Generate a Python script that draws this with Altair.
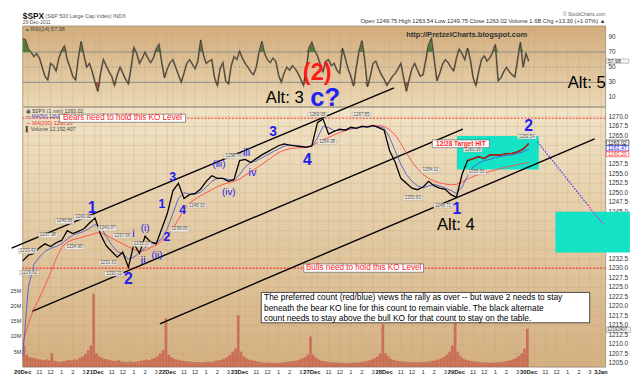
import altair as alt
import pandas as pd

# ------------------------------------------------------------------ data
days = ["20Dec", "21Dec", "22Dec", "23Dec", "27Dec", "28Dec", "29Dec", "30Dec", "3Jan"]
hour_labels = ["", "10", "", "11", "", "12", "", "1", "", "2", "", "3", ""]
grid_offsets = [0, 1, 3, 5, 7, 9, 11]
label_offsets = [0, 3, 5, 7, 9, 11]

# $SPX 1-minute chart read every half hour (t = half hours since 20Dec 9:30)
price = [
    1232.0, 1233.5, 1234.0, 1235.5, 1236.5, 1235.8, 1236.8, 1237.4, 1240.0, 1239.2,
    1239.8, 1240.5, 1242.0, 1243.3, 1239.0, 1236.0, 1234.5, 1233.0, 1234.3, 1230.3,
    1236.5, 1234.0, 1238.5, 1237.0, 1236.5, 1240.5, 1244.5, 1250.5, 1252.5, 1248.5,
    1249.5, 1249.8, 1251.0, 1253.0, 1254.5, 1253.8, 1253.8, 1253.0, 1253.5, 1258.5,
    1258.8, 1258.0, 1259.0, 1260.0, 1260.8, 1261.6, 1262.4, 1262.9, 1262.6, 1262.4,
    1262.2, 1262.0, 1262.4, 1268.5, 1269.5, 1265.5, 1266.2, 1266.8, 1266.5, 1267.3,
    1267.0, 1267.6, 1267.3, 1267.8, 1267.2, 1266.5, 1261.0, 1258.0, 1253.8, 1252.5,
    1251.2, 1250.8, 1251.5, 1253.0, 1251.8, 1251.2, 1250.9, 1249.5, 1248.8, 1254.8,
    1258.5, 1259.0, 1259.5, 1259.0, 1260.0, 1260.0, 1260.0, 1260.3, 1260.4, 1260.8,
    1261.5, 1263.0,
]
ma50 = [
    1207.0, 1225.0, 1231.0, 1233.0, 1234.5, 1235.3, 1235.8, 1236.5, 1237.8, 1238.8,
    1239.3, 1239.8, 1240.6, 1241.6, 1241.0, 1238.5, 1236.2, 1234.5, 1233.8, 1232.5,
    1233.0, 1234.2, 1235.5, 1236.8, 1236.8, 1237.8, 1240.5, 1244.5, 1248.5, 1250.0,
    1249.6, 1249.6, 1250.2, 1251.5, 1253.0, 1253.8, 1253.8, 1253.5, 1253.3, 1254.8,
    1256.8, 1258.0, 1258.4, 1259.2, 1260.0, 1260.8, 1261.6, 1262.3, 1262.6, 1262.5,
    1262.3, 1262.1, 1262.2, 1264.5, 1267.5, 1267.2, 1266.4, 1266.5, 1266.7, 1266.9,
    1267.1, 1267.3, 1267.4, 1267.5, 1267.5, 1267.0, 1264.5, 1261.0, 1257.5, 1254.8,
    1253.0, 1251.8, 1251.3, 1251.8, 1252.2, 1251.8, 1251.2, 1250.6, 1249.8, 1251.5,
    1254.5, 1256.8, 1257.8, 1258.5, 1258.8, 1259.3, 1259.6, 1259.8, 1260.0, 1260.3,
    1260.8, 1261.5,
]
ma200 = [
    1210.0, 1215.5, 1219.3, 1222.2, 1225.4, 1228.9, 1232.6, 1235.6, 1237.0, 1237.6,
    1238.0, 1238.4, 1238.8, 1239.3, 1239.5, 1238.8, 1238.0, 1237.2, 1236.5, 1235.7,
    1235.0, 1234.4, 1234.8, 1235.5, 1236.2, 1237.2, 1238.7, 1240.5, 1243.0, 1245.5,
    1247.3, 1248.3, 1249.2, 1250.0, 1250.8, 1251.6, 1252.2, 1252.6, 1253.0, 1253.6,
    1254.6, 1255.5, 1256.5, 1257.5, 1258.5, 1259.6, 1260.6, 1261.2, 1261.6, 1261.8,
    1261.9, 1262.1, 1262.4, 1263.2, 1264.0, 1264.6, 1265.3, 1265.9, 1266.4, 1266.8,
    1267.1, 1267.4, 1267.6, 1267.7, 1267.7, 1267.5, 1266.6, 1265.2, 1263.0, 1260.5,
    1258.2, 1256.3, 1254.8, 1253.8, 1253.1, 1252.6, 1252.3, 1252.1, 1252.2, 1252.8,
    1253.6, 1254.3, 1254.8, 1255.2, 1255.6, 1256.0, 1256.4, 1256.8, 1257.1, 1257.4,
    1257.7, 1258.0,
]
# RSI(14) read every quarter hour
rsi = [
    88, 86, 74, 70, 64, 68, 62, 50, 38, 33,
    55, 52, 45, 62, 72, 78, 60, 50, 38, 33,
    62, 84, 66, 50, 55, 44, 30, 18, 42, 60,
    52, 44, 38, 26, 40, 50, 42, 34, 28, 50,
    76, 68, 55, 62, 70, 62, 56, 62, 74, 80,
    56, 36, 48, 56, 60, 50, 40, 30, 42, 55,
    60, 54, 48, 58, 86, 66, 55, 58, 60, 36,
    26, 48, 56, 32, 28, 52, 64, 60, 71, 62,
    55, 50, 44, 40, 50, 70, 84, 68, 60, 56,
    62, 58, 40, 30, 42, 50, 46, 52, 48, 42,
    34, 26, 48, 76, 83, 72, 65, 54, 44, 58,
    60, 52, 55, 46, 42, 75, 62, 48, 38, 25,
    50, 72, 85, 60, 24, 38, 55, 58, 48, 40,
    34, 26, 32, 38, 42, 48, 55, 36, 18, 34,
    48, 55, 46, 38, 40, 60, 80, 88, 60, 32,
    42, 54, 60, 56, 50, 45, 62, 74, 68, 60,
    75, 60, 36, 26, 44, 60, 65, 58, 62, 70,
    80, 32, 36, 44, 50, 44, 40, 37, 60, 83,
    50, 68, 58,
]
# peak one-minute volume (millions) in each quarter hour, one list per day
volume_m = [
    [7, 4, 3.2, 3, 2.8, 2.5, 2.4, 2.2, 2.5, 2.1, 4.5, 2, 1.8, 1.7, 1.9, 2, 2.3, 2.1, 2.5, 2.4, 3, 3.4, 4.2, 5.5, 7, 24],
    [4.5, 3.5, 3, 2.6, 2.4, 2.2, 2, 2, 2.2, 1.8, 1.7, 1.6, 1.8, 1.6, 1.7, 1.8, 2, 2.2, 2.4, 2.2, 2.6, 3, 3.5, 4.5, 5.5, 16],
    [4, 3.2, 2.6, 2.4, 2.2, 2, 1.9, 1.8, 1.7, 1.6, 1.6, 1.5, 1.5, 1.6, 1.7, 1.6, 1.8, 2, 2.2, 2.4, 2.8, 3.2, 4, 5, 6, 17],
    [5, 3.5, 2.8, 2.4, 2.2, 2, 1.8, 1.6, 1.5, 1.4, 1.4, 1.3, 1.4, 1.3, 1.4, 1.5, 1.6, 1.7, 1.8, 1.9, 2.1, 2.4, 2.8, 3.2, 4, 10],
    [4, 3, 2.4, 2, 1.8, 1.7, 1.6, 1.5, 1.5, 1.4, 1.4, 1.3, 1.3, 1.3, 1.4, 1.4, 1.5, 1.6, 1.7, 1.9, 2.1, 2.4, 2.8, 3.4, 4.5, 14],
    [4.5, 3.4, 2.6, 2.3, 2, 1.9, 1.8, 1.7, 1.6, 1.6, 1.5, 1.5, 1.5, 1.6, 1.6, 1.7, 1.8, 2, 2.2, 2.5, 2.8, 3.3, 4, 5, 7, 14.5],
    [5, 3.5, 2.7, 2.3, 2.1, 1.9, 1.8, 1.7, 1.6, 1.5, 1.5, 1.4, 1.4, 1.5, 1.5, 1.6, 1.7, 1.8, 2, 2.2, 2.5, 3, 3.6, 4.5, 6, 12.5],
]
price_ticks = [1205.0, 1207.5, 1210.0, 1212.5, 1215.0, 1217.5, 1220.0, 1222.5, 1225.0,
               1227.5, 1230.0, 1232.5, 1235.0, 1237.5, 1240.0, 1242.5, 1245.0, 1247.5,
               1250.0, 1252.5, 1255.0, 1257.5, 1260.0, 1262.5, 1265.0, 1267.5, 1270.0]
rsi_ticks = [10, 30, 50, 70, 90]
vol_ticks = [5e6, 10e6, 15e6, 20e6, 25e6]
vol_tick_labels = ["5M", "10M", "15M", "20M", "25M"]
bear_ko = 1269.65
bull_ko = 1230.1

# annotations (data units: t, price)
channel_lines = [("A", -2.0, 1235.4), ("A", 66.77, 1277.7),
                 ("B", 1.68, 1218.7), ("B", 79.15, 1266.8),
                 ("C", 24.67, 1215.4), ("C", 102.85, 1264.2)]
projection_blue = [(92.6, 1263.4), (101.6, 1246.8)]
projection_pink = [(101.6, 1246.8), (104.6, 1241.3)]
cyan_boxes = [(78.1, 92.8, 1256.15, 1265.0), (95.8, 109.2, 1234.2, 1245.0)]
wave_digits = [(12.47, 1246.0, "1", 16), (19.01, 1227.3, "2", 16), (26.97, 1254.1, "3", 12.5),
               (25.03, 1247.1, "1", 12.5), (25.91, 1238.2, "2", 12.5), (28.74, 1245.5, "4", 12.5),
               (45.01, 1266.0, "3", 14), (51.2, 1258.75, "4", 16), (78.09, 1245.8, "1", 16),
               (91.0, 1267.6, "2", 16)]
wave_roman = [(19.9, 1239.0, "i", 11), (21.67, 1232.0, "ii", 11), (22.02, 1240.8, "(i)", 10),
              (24.14, 1233.55, "(ii)", 10), (35.28, 1257.45, "(iii)", 10), (37.05, 1250.2, "(iv)", 10),
              (40.24, 1260.6, "iii", 11), (41.3, 1255.1, "iv", 11)]
big_labels = [(47.13, 1274.9, "Alt: 3", 17, "#000000"), (77.9, 1241.35, "Alt: 4", 17, "#000000"),
              (101.43, 1279.0, "Alt: 5", 17, "#000000"), (54.39, 1275.1, "c?", 26, "#2020f0"),
              (52.97, 1281.5, "(2)", 24, "#ff1a1a")]
price_tags = [(4.51, 1238.75, "1237.38"), (7.52, 1242.4, "1240.56"), (10.9, 1243.5, "1243.32"),
              (15.2, 1240.57, "1241.07"), (9.29, 1235.6, "1234.95"), (21.4, 1236.4, "1235.27"),
              (15.4, 1231.5, "1231.63"), (17.9, 1238.6, "1237.06"), (28.2, 1240.3, "1239.05"),
              (16.4, 1228.6, "1230.31"), (1.15, 1228.9, "1229.62"), (0.9, 1234.6, "1233.43"),
              (31.3, 1246.6, "1248.30"), (37.9, 1259.6, "1258.70"), (53.0, 1270.6, "1269.68"),
              (54.74, 1263.4, "1264.38"), (60.93, 1270.6, "1267.85"), (73.31, 1255.9, "1254.11"),
              (70.13, 1248.6, "1250.63"), (75.6, 1246.6, "1248.71"), (81.62, 1255.4, "1255.53"),
              (80.92, 1261.35, "1260.36"), (90.64, 1264.8, "1263.54")]
ko_boxes = [(6.63, 29.27, 1268.6, 1270.75, "Bears need to hold this KO Level"),
            (50.55, 72.07, 1229.0, 1231.2, "Bulls need to hold this KO Level")]
target_box = [(73.66, 83.92, 1261.9, 1263.95, "12/28 Target HIT")]
note_box = [(42.9, 101.97, 1215.66, 1223.68)]
note_lines = [(43.4, 1222.35, "The preferred count (red/blue) views the rally as over -- but wave 2 needs to stay"),
              (43.4, 1219.6, "beneath the bear KO line for this count to remain viable.  The black alternate"),
              (43.4, 1216.95, "count needs to stay above the bull KO for that count to stay on the table.")]
right_tags = [(1263.2, "1263.02", "#000000"), (1261.75, "1261.47", "#2020f0"), (1260.2, "1260.20", "#ff2020")]

# ------------------------------------------------------------------ layout
W, H_RSI, H_MAIN = 593, 82, 264
X_DOMAIN = [0, 104.8]
P_DOMAIN = [1204.0, 1272.5]
R_DOMAIN = [-2, 104.5]
V_DOMAIN = [0, 85e6]
FONT = "Liberation Sans"
BLUE = "#2020f0"
GRIDC = "#c2a67c"

xs = alt.Scale(domain=X_DOMAIN, nice=False, zero=False, padding=0)
ps = alt.Scale(domain=P_DOMAIN, nice=False, zero=False)
rs = alt.Scale(domain=R_DOMAIN, nice=False, zero=False)
vs = alt.Scale(domain=V_DOMAIN, nice=False, zero=False)


def X(f="t"):
    return alt.X(f"{f}:Q", scale=xs, axis=None)


def P(f):
    return alt.Y(f"{f}:Q", scale=ps, axis=None)


def R(f):
    return alt.Y(f"{f}:Q", scale=rs, axis=None)


def V(f):
    return alt.Y(f"{f}:Q", scale=vs, axis=None)


one = pd.DataFrame({"k": [0]})


def px_text(text, x, y, size, color="#222222", weight="normal", align="left", baseline="top"):
    return alt.Chart(one).mark_text(text=text, fontSize=size, color=color, fontWeight=weight,
                                    align=align, baseline=baseline, font=FONT).encode(
        x=alt.value(x), y=alt.value(y))


df_p = pd.DataFrame({"t": list(range(len(price))), "price": price, "ma50": ma50, "ma200": ma200})
df_r = pd.DataFrame({"t": [i * 0.5 for i in range(len(rsi))], "rsi": rsi})
vol = [v for day in volume_m for v in day]
df_v = pd.DataFrame({"t": [0.25 + 0.5 * i for i in range(len(vol))], "vol": [v * 1e6 for v in vol]})
grid_t = [d * 13 + k for d in range(len(days)) for k in grid_offsets if d * 13 + k <= X_DOMAIN[1]]
label_t = [d * 13 + k for d in range(len(days)) for k in label_offsets if d * 13 + k <= X_DOMAIN[1]]
df_gx = pd.DataFrame({"t": grid_t})
tag_prices = [tp for tp, _, _ in right_tags]
df_gp = pd.DataFrame({"p": price_ticks, "s": [f"{p:.1f}" for p in price_ticks],
                      "shown": [all(abs(p - tp) > 1.0 for tp in tag_prices) for p in price_ticks]})
df_xl = pd.DataFrame({"t": label_t,
                      "s": [days[t // 13] if t % 13 == 0 else hour_labels[t % 13] for t in label_t],
                      "day": [t % 13 == 0 for t in label_t]})
df_rl = pd.DataFrame({"v": rsi_ticks, "s": [str(v) for v in rsi_ticks]})
df_vl = pd.DataFrame({"v": vol_ticks, "s": vol_tick_labels})


def grad(top, bottom):
    return alt.Gradient(gradient="linear", x1=0, x2=0, y1=0, y2=1,
                        stops=[alt.GradientStop(offset=0, color=top),
                               alt.GradientStop(offset=1, color=bottom)])


# ------------------------------------------------------------------ RSI panel
rsi_bg = alt.Chart(one).mark_rect(fill=grad("#D2AC7C", "#EBD8B4"), stroke="#8f7f66", strokeWidth=0.6).encode(
    x=alt.value(0), x2=alt.value(W), y=alt.value(0), y2=alt.value(H_RSI))
rsi_vgrid = alt.Chart(df_gx).mark_rule(color=GRIDC, strokeWidth=0.5, opacity=0.6).encode(x=X())
rsi_h = alt.Chart(pd.DataFrame({"v": [70, 30]})).mark_rule(color="#8c8c8c", strokeWidth=1).encode(y=R("v"))
rsi_mid = alt.Chart(pd.DataFrame({"v": [50]})).mark_rule(color="#9a9a9a", strokeWidth=0.8,
                                                         strokeDash=[2, 2]).encode(y=R("v"))
rsi_green = alt.Chart(df_r).transform_calculate(hi="max(datum.rsi, 70)", base="70").mark_area(
    color="#3d7a2a", opacity=0.9).encode(x=X(), y=R("hi"), y2="base:Q")
rsi_red = alt.Chart(df_r).transform_calculate(lo="min(datum.rsi, 30)", base="30").mark_area(
    color="#a8302a", opacity=0.9).encode(x=X(), y=R("lo"), y2="base:Q")
rsi_under = alt.Chart(df_r).mark_line(color="#8a7b62", strokeWidth=1.8).encode(x=X(), y=R("rsi"))
rsi_line = alt.Chart(df_r).mark_line(color="#1e1e1e", strokeWidth=0.6).encode(x=X(), y=R("rsi"))
rsi_labels = alt.Chart(df_rl).mark_text(fontSize=6.6, align="left", baseline="middle", color="#333333",
                                        font=FONT).encode(x=alt.value(W + 3), y=R("v"), text="s:N")
rsi_url = alt.Chart(pd.DataFrame({"t": [79.85], "v": [92.4], "s": ["http://PretzelCharts.blogspot.com"]})).mark_text(
    fontSize=7.7, fontWeight="bold", color="#333333", font=FONT).encode(x=X(), y=R("v"), text="s:N")
rsi_tag_box = alt.Chart(pd.DataFrame({"t1": [104.95], "t2": [109.0], "v1": [55.2], "v2": [60.8]})).mark_rect(
    fill="#f4f4f4", stroke="#888888", strokeWidth=0.5, clip=False).encode(
    x=X("t1"), x2="t2:Q", y=R("v1"), y2="v2:Q")
rsi_tag_txt = alt.Chart(pd.DataFrame({"t": [105.25], "v": [57.98], "s": ["57.98"]})).mark_text(
    fontSize=5.2, align="left", color="#333333", font=FONT).encode(x=X(), y=R("v"), text="s:N")

rsi_chart = alt.layer(
    rsi_bg, rsi_vgrid, rsi_h, rsi_mid, rsi_green, rsi_red, rsi_under, rsi_line, rsi_labels, rsi_url,
    rsi_tag_box, rsi_tag_txt,
    px_text("\u25b2", 2, 1.5, 5, color="#3d7a2a"),
    px_text("RSI(14) 57.98", 8, 1.5, 5.6, color="#444444"),
    px_text("$SPX", 0, -14, 8.5, color="#111111", weight="bold"),
    px_text("(S&P 500 Large Cap Index) INDX", 23, -12.5, 5.5, color="#555555"),
    px_text("29-Dec-2011", 0, -6, 5, color="#555555"),
    px_text("\u00a9 StockCharts.com", W, -14, 5, color="#666666", align="right"),
    px_text("Open 1249.75   High 1263.54   Low 1249.75   Close 1263.02   Volume 1.6B   Chg +13.30 (+1.07%) \u25b2",
            W, -7.5, 5.9, color="#333333", align="right"),
).properties(width=W, height=H_RSI)

# ------------------------------------------------------------------ price panel
main_bg = alt.Chart(one).mark_rect(fill=grad("#F1E3C6", "#D4B080"), stroke="#8f7f66", strokeWidth=0.6).encode(
    x=alt.value(0), x2=alt.value(W), y=alt.value(0), y2=alt.value(H_MAIN))
main_vgrid = alt.Chart(df_gx).mark_rule(color=GRIDC, strokeWidth=0.5, opacity=0.6).encode(x=X())
x_lab_day = alt.Chart(df_xl).transform_filter("datum.day").mark_text(
    fontSize=6, fontWeight="bold", baseline="top", color="#222222", font=FONT).encode(
    x=X(), y=alt.value(H_MAIN + 2), text="s:N")
x_lab_hour = alt.Chart(df_xl).transform_filter("!datum.day").mark_text(
    fontSize=6, baseline="top", color="#333333", font=FONT).encode(
    x=X(), y=alt.value(H_MAIN + 2), text="s:N")

vol_bars = alt.Chart(df_v).mark_bar(width=2.7, color="#c4443a", opacity=0.62).encode(x=X(), y=V("vol"))
vol_labels = alt.Chart(df_vl).mark_text(fontSize=5.6, align="right", baseline="middle", color="#333333",
                                        font=FONT).encode(x=alt.value(-1.5), y=V("v"), text="s:N")
vol_tag_box = alt.Chart(pd.DataFrame({"t1": [104.95], "t2": [109.3], "v1": [11.3e6], "v2": [13.1e6]})).mark_rect(
    fill="#f0f0f0", stroke="#888888", strokeWidth=0.5, clip=False).encode(
    x=X("t1"), x2="t2:Q", y=V("v1"), y2="v2:Q")
vol_tag_txt = alt.Chart(pd.DataFrame({"t": [105.1], "v": [12.19e6], "s": ["12192407"]})).mark_text(
    fontSize=4.6, align="left", color="#444444", font=FONT).encode(x=X(), y=V("v"), text="s:N")
vol_layer = alt.layer(vol_bars, vol_labels, vol_tag_box, vol_tag_txt)

hgrid = alt.Chart(df_gp).mark_rule(color=GRIDC, strokeWidth=0.5, opacity=0.6).encode(y=P("p"))
p_labels = alt.Chart(df_gp).transform_filter("datum.shown").mark_text(
    fontSize=6.6, align="left", baseline="middle", color="#333333", font=FONT).encode(
    x=alt.value(W + 3), y=P("p"), text="s:N")
df_cyan = pd.DataFrame(cyan_boxes, columns=["t1", "t2", "p1", "p2"])
cyan = alt.Chart(df_cyan).mark_rect(color="#14E3C6", clip=False).encode(
    x=X("t1"), x2="t2:Q", y=P("p1"), y2="p2:Q")
ko_lines = alt.Chart(pd.DataFrame({"p": [bear_ko, bull_ko]})).mark_rule(
    color="#ff3b3b", strokeWidth=1.1, strokeDash=[2, 1.5]).encode(y=P("p"))
df_ch = pd.DataFrame(channel_lines, columns=["line", "t", "p"])
channels = alt.Chart(df_ch).mark_line(color="#000000", strokeWidth=1.4, clip=False).encode(
    x=X(), y=P("p"), detail="line:N")
ma200_line = alt.Chart(df_p).mark_line(color="#ff4646", strokeWidth=0.9).encode(x=X(), y=P("ma200"))
ma50_line = alt.Chart(df_p).mark_line(color="#4b5cc8", strokeWidth=0.9).encode(x=X(), y=P("ma50"))
price_line = alt.Chart(df_p).mark_line(color="#000000", strokeWidth=1.3).encode(x=X(), y=P("price"))
price_red = alt.Chart(df_p).transform_filter("datum.t >= 80").mark_line(
    color="#e01818", strokeWidth=1.2).encode(x=X(), y=P("price"))
proj_b = alt.Chart(pd.DataFrame(projection_blue, columns=["t", "p"])).mark_line(
    color="#3434ff", strokeWidth=1.2, strokeDash=[1.5, 1.5]).encode(x=X(), y=P("p"))
proj_m = alt.Chart(pd.DataFrame(projection_pink, columns=["t", "p"])).mark_line(
    color="#e020e0", strokeWidth=1.2, strokeDash=[1.5, 1.5]).encode(x=X(), y=P("p"))

df_tags = pd.DataFrame(price_tags, columns=["t", "p", "s"])
tag_box = alt.Chart(df_tags).transform_calculate(
    t1="datum.t - 1.7", t2="datum.t + 1.7", p1="datum.p - 0.62", p2="datum.p + 0.62").mark_rect(
    fill="#f3ede2", stroke="#9a9a9a", strokeWidth=0.4, opacity=0.9).encode(
    x=X("t1"), x2="t2:Q", y=P("p1"), y2="p2:Q")
tag_txt = alt.Chart(df_tags).mark_text(fontSize=4.5, color="#555555", font=FONT).encode(
    x=X(), y=P("p"), text="s:N")

df_ko = pd.DataFrame(ko_boxes, columns=["t1", "t2", "p1", "p2", "s"])
ko_box = alt.Chart(df_ko).mark_rect(fill="#ffffff", stroke="#666666", strokeWidth=0.7).encode(
    x=X("t1"), x2="t2:Q", y=P("p1"), y2="p2:Q")
ko_txt = alt.Chart(df_ko).transform_calculate(tc="(datum.t1 + datum.t2) / 2", pc="(datum.p1 + datum.p2) / 2").mark_text(
    fontSize=8.3, color="#ff1a1a", font=FONT).encode(x=X("tc"), y=P("pc"), text="s:N")
df_tb = pd.DataFrame(target_box, columns=["t1", "t2", "p1", "p2", "s"])
tb_box = alt.Chart(df_tb).mark_rect(fill="#ffffff", stroke="#666666", strokeWidth=0.7).encode(
    x=X("t1"), x2="t2:Q", y=P("p1"), y2="p2:Q")
tb_txt = alt.Chart(df_tb).transform_calculate(tc="(datum.t1 + datum.t2) / 2", pc="(datum.p1 + datum.p2) / 2").mark_text(
    fontSize=6.6, fontWeight="bold", color="#ff1a1a", font=FONT).encode(x=X("tc"), y=P("pc"), text="s:N")
nb = alt.Chart(pd.DataFrame(note_box, columns=["t1", "t2", "p1", "p2"])).mark_rect(
    fill="#ffffff", stroke="#222222", strokeWidth=0.8).encode(x=X("t1"), x2="t2:Q", y=P("p1"), y2="p2:Q")
nt = alt.Chart(pd.DataFrame(note_lines, columns=["t", "p", "s"])).mark_text(
    fontSize=8.5, align="left", color="#000000", font=FONT).encode(x=X(), y=P("p"), text="s:N")

digits = alt.Chart(pd.DataFrame(wave_digits, columns=["t", "p", "s", "size"])).mark_text(
    fontWeight="bold", color=BLUE, font=FONT, clip=False).encode(
    x=X(), y=P("p"), text="s:N", size=alt.Size("size:Q", scale=None))
romans = alt.Chart(pd.DataFrame(wave_roman, columns=["t", "p", "s", "size"])).mark_text(
    color=BLUE, font=FONT).encode(x=X(), y=P("p"), text="s:N", size=alt.Size("size:Q", scale=None))
bigs_bold = alt.Chart(pd.DataFrame(big_labels[3:], columns=["t", "p", "s", "size", "c"])).mark_text(
    font=FONT, fontWeight="bold", clip=False).encode(x=X(), y=P("p"), text="s:N",
                                                     size=alt.Size("size:Q", scale=None),
                                                     color=alt.Color("c:N", scale=None))
bigs_plain = alt.Chart(pd.DataFrame(big_labels[:3], columns=["t", "p", "s", "size", "c"])).mark_text(
    font=FONT, clip=False).encode(x=X(), y=P("p"), text="s:N", size=alt.Size("size:Q", scale=None),
                                  color=alt.Color("c:N", scale=None))

df_rt = pd.DataFrame(right_tags, columns=["p", "s", "c"])
rt_box = alt.Chart(df_rt).transform_calculate(t1="104.95", t2="109.0", p1="datum.p - 0.7", p2="datum.p + 0.7").mark_rect(
    fill="#ffffff", strokeWidth=0.6, clip=False).encode(
    x=X("t1"), x2="t2:Q", y=P("p1"), y2="p2:Q", stroke=alt.Stroke("c:N", scale=None))
rt_txt = alt.Chart(df_rt).transform_calculate(t="105.25").mark_text(
    fontSize=5.3, align="left", font=FONT, clip=False).encode(
    x=X(), y=P("p"), text="s:N", color=alt.Color("c:N", scale=None))

price_layer = alt.layer(
    hgrid, p_labels, cyan, ko_lines, channels, ma200_line, ma50_line, price_line, price_red, proj_b, proj_m,
    tag_box, tag_txt,
    px_text("\u25a3 $SPX (1 min) 1263.02", 3, 4, 5.3, color="#444444", baseline="middle"),
    px_text("\u2014 MA(50) 1261.47", 3, 10, 4.9, color="#3a3ac0", baseline="middle"),
    px_text("\u2014 MA(200) 1260.20", 3, 16, 5.3, color="#e03030", baseline="middle"),
    px_text("\u258c Volume 12,192,407", 3, 22, 5.3, color="#444444", baseline="middle"),
    ko_box, ko_txt, tb_box, tb_txt, nb, nt, digits, romans, bigs_plain, bigs_bold,
    rt_box, rt_txt,
)

main_chart = alt.layer(
    alt.layer(main_bg, main_vgrid, x_lab_day, x_lab_hour), vol_layer, price_layer
).resolve_scale(y="independent").properties(width=W, height=H_MAIN)

chart = alt.vconcat(rsi_chart, main_chart, spacing=1, bounds="flush").properties(
    padding={"left": 0, "top": 0, "right": 0, "bottom": 0}, background="#ffffff"
).configure_view(strokeWidth=0).configure(font=FONT)

chart.save("out.html", embed_options={"renderer": "svg", "actions": False})
